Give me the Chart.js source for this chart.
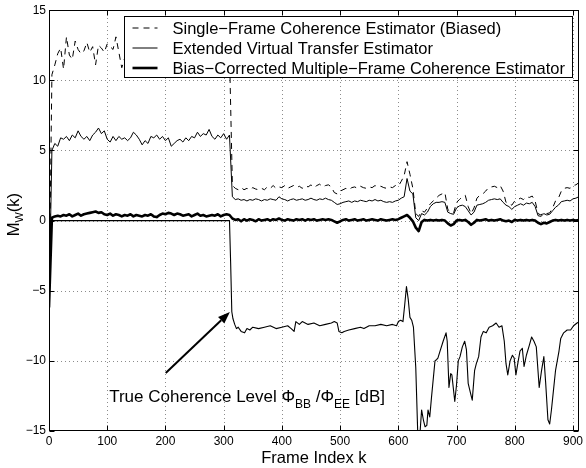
<!DOCTYPE html>
<html>
<head>
<meta charset="utf-8">
<script src="https://cdn.jsdelivr.net/npm/chart.js@4.4.1/dist/chart.umd.min.js"></script>
<style>
  html, body { margin: 0; padding: 0; background: #fff; }
  canvas { display: block; }
</style>
</head>
<body>
<canvas id="chart" width="586" height="468"></canvas>
<script>
// frame index shared by the three estimators (every 5th frame)
const frames = [
  0, 5, 10, 15, 20, 25, 30, 35, 40, 45,
  50, 55, 60, 65, 70, 75, 80, 85, 90, 95,
  100, 105, 110, 115, 120, 125, 130, 135, 140, 145,
  150, 155, 160, 165, 170, 175, 180, 185, 190, 195,
  200, 205, 210, 215, 220, 225, 230, 235, 240, 245,
  250, 255, 260, 265, 270, 275, 280, 285, 290, 295,
  300, 305, 310, 315, 320, 325, 330, 335, 340, 345,
  350, 355, 360, 365, 370, 375, 380, 385, 390, 395,
  400, 405, 410, 415, 420, 425, 430, 435, 440, 445,
  450, 455, 460, 465, 470, 475, 480, 485, 490, 495,
  500, 505, 510, 515, 520, 525, 530, 535, 540, 545,
  550, 555, 560, 565, 570, 575, 580, 585, 590, 595,
  600, 605, 610, 615, 620, 625, 630, 635, 640, 645,
  650, 655, 660, 665, 670, 675, 680, 685, 690, 695,
  700, 705, 710, 715, 720, 725, 730, 735, 740, 745,
  750, 755, 760, 765, 770, 775, 780, 785, 790, 795,
  800, 805, 810, 815, 820, 825, 830, 835, 840, 845,
  850, 855, 860, 865, 870, 875, 880, 885, 890, 895,
  900, 905, 910
];

// Single-Frame Coherence Estimator (Biased)
const singleFrame = [
  -6.2, 10.4, 11.1, 11.9, 12.3, 10.8, 13.1, 11.8, 11.5, 12.8,
  12.2, 11.9, 12.1, 12.7, 12.0, 12.4, 11.1, 12.5, 12.3, 12.0,
  12.6, 12.4, 12.2, 13.1, 12.0, 10.9, 11.6, 12.3, 11.8, 12.5,
  12.1, 11.7, 12.6, 12.0, 12.4, 11.9, 12.7, 12.2, 11.8, 12.5,
  12.0, 12.3, 11.6, 12.4, 12.1, 12.8, 11.9, 12.2, 12.5, 11.7,
  12.3, 12.6, 12.0, 12.4, 11.9, 12.7, 12.1, 12.5, 11.8, 12.2,
  12.4, 11.9, 12.0, 2.5, 2.3, 2.2, 2.35, 2.2, 2.3, 2.2,
  2.35, 2.25, 2.2, 2.3, 2.2, 2.4, 2.3, 2.5, 2.3, 2.4,
  2.35, 2.5, 2.3, 2.4, 2.5, 2.35, 2.45, 2.3, 2.5, 2.4,
  2.55, 2.35, 2.5, 2.6, 2.4, 2.5, 2.55, 2.4, 2.0, 1.9,
  2.1, 2.2, 2.3, 2.2, 2.35, 2.4, 2.3, 2.45, 2.35, 2.3,
  2.4, 2.35, 2.5, 2.4, 2.45, 2.35, 2.3, 2.4, 2.35, 2.5,
  2.45, 2.8, 3.2, 4.2, 3.3, 2.3, 0.5, 0.3, 0.7, 0.6,
  0.9, 1.2, 1.4, 1.6, 1.8, 1.9, 2.0, 0.8, 0.6, 0.55,
  1.3, 1.5, 1.7, 1.8, 1.0, 0.5, 0.9, 1.6, 1.8, 1.9,
  2.1, 2.35, 2.4, 2.45, 2.35, 2.5, 2.1, 1.3, 1.2, 1.1,
  1.4, 1.5, 1.6, 1.5, 1.7, 1.65, 1.75, 1.4, 0.5, 0.4,
  0.6, 0.5, 0.55, 0.9, 1.4, 1.6, 2.1, 2.3, 2.35, 2.3,
  2.5, 2.55, 2.7
];

// Extended Virtual Transfer Estimator
const virtualTransfer = [
  -6.2, 5.0, 5.5, 5.3, 5.9, 5.8, 6.0, 5.7, 6.1, 5.9,
  6.4, 6.0, 5.8, 6.0, 5.7, 6.1, 6.3, 6.6, 6.2, 6.4,
  5.8, 5.6, 6.0, 5.7, 6.0, 5.8, 5.9, 5.7, 5.9, 6.3,
  6.1, 5.8, 5.4, 5.7, 5.5, 6.0, 5.9, 6.1, 5.8, 6.0,
  5.7, 5.9, 5.3, 5.5, 5.7, 5.8, 5.6, 5.9, 5.7, 6.0,
  5.9, 6.3, 6.0, 6.2, 6.1, 6.5, 6.0, 5.8, 6.1, 5.9,
  6.2, 5.8, 6.1, 1.7, 1.5, 1.55, 1.45, 1.5, 1.4, 1.5,
  1.45, 1.55, 1.5, 1.4, 1.5, 1.45, 1.55, 1.5, 1.45, 1.7,
  1.55, 1.5, 1.4, 1.5, 1.55, 1.45, 1.5, 1.55, 1.45, 1.5,
  1.6, 1.5, 1.45, 1.55, 1.5, 1.6, 1.5, 1.45, 1.3, 1.15,
  1.2, 1.3, 1.35, 1.4, 1.3, 1.4, 1.35, 1.45, 1.4, 1.35,
  1.45, 1.4, 1.5, 1.4, 1.45, 1.35, 1.3, 1.35, 1.3, 1.4,
  1.45, 1.6, 1.7, 3.0, 2.1, 1.9, 0.2, 0.0, 0.5, 0.4,
  0.6, 1.0, 1.2, 1.3, 1.3, 1.35, 1.3, 0.6, 0.5, 0.45,
  0.9, 1.05, 1.1, 1.0, 0.7, 0.4, 0.6, 1.1, 1.15, 1.2,
  1.3, 1.45, 1.5, 1.55, 1.5, 1.55, 1.3, 1.1, 1.0, 0.8,
  1.0, 1.1, 1.2, 1.1, 1.25, 1.2, 1.3, 1.0, 0.35, 0.3,
  0.5, 0.4, 0.45, 0.7, 0.95, 1.1, 1.35, 1.4, 1.45, 1.4,
  1.55, 1.6, 1.7
];

// Bias-Corrected Multiple-Frame Coherence Estimator
const biasCorrected = [
  -6.2, 0.2, 0.3, 0.35, 0.3, 0.4, 0.35, 0.45, 0.3, 0.4,
  0.5, 0.35, 0.45, 0.5, 0.55, 0.6, 0.65, 0.55, 0.6, 0.45,
  0.4, 0.5, 0.35, 0.45, 0.4, 0.3, 0.4, 0.35, 0.45, 0.3,
  0.4, 0.35, 0.3, 0.4, 0.35, 0.45, 0.3, 0.25, 0.4, 0.5,
  0.45, 0.55, 0.5, 0.4, 0.5, 0.45, 0.35, 0.4, 0.45, 0.3,
  0.4, 0.5, 0.35, 0.4, 0.3, 0.35, 0.4, 0.35, 0.45, 0.3,
  0.4, 0.45, 0.4, 0.15, 0.05, 0.1, -0.05, 0.1, 0.0, 0.1,
  0.05, -0.05, 0.1, 0.0, 0.05, 0.1, 0.0, 0.1, 0.05, 0.15,
  0.05, 0.0, 0.1, 0.05, 0.0, 0.1, 0.05, 0.1, 0.0, 0.1,
  0.05, 0.1, 0.0, 0.05, 0.1, 0.05, 0.1, 0.05, -0.05, -0.15,
  -0.05, 0.05, 0.1, 0.0, 0.05, 0.1, 0.0, 0.05, 0.1, 0.0,
  0.05, 0.1, 0.05, 0.0, 0.1, 0.05, 0.0, 0.05, 0.1, 0.05,
  0.1, 0.2, 0.3, 0.4, 0.2, -0.05, -0.5, -0.75, -0.1, 0.05,
  0.0, 0.05, 0.0, 0.05, 0.0, 0.05, 0.0, -0.2, -0.35, -0.25,
  0.0, 0.05, 0.0, 0.05, -0.1, -0.3, -0.15, 0.05, 0.0, 0.05,
  0.1, 0.0, 0.05, 0.0, 0.05, 0.1, 0.0, -0.05, 0.0, -0.1,
  0.05, 0.0, 0.05, 0.0, 0.05, 0.0, 0.05, 0.0, -0.15, -0.25,
  -0.15, -0.2, -0.1, 0.0, 0.05, 0.0, 0.05, 0.0, 0.05, 0.0,
  0.05, 0.0, 0.05
];

// True coherence level Phi_BB / Phi_EE in dB (own frame grid)
const trueFrames = [
  0, 3, 310, 312, 314, 316, 319, 322, 325, 330,
  336, 340, 345, 350, 360, 370, 380, 390, 400, 410,
  416, 421, 424, 430, 435, 445, 455, 465, 475, 485,
  490, 495, 498, 503, 507, 515, 525, 535, 541, 550,
  560, 570, 580, 590, 597, 600, 604, 608, 611, 614,
  617, 620, 623, 626, 630, 634, 637, 640, 643, 646,
  649, 651, 654, 657, 663, 666, 668, 671, 677, 682,
  684, 687, 690, 692, 697, 700, 703, 706, 710, 714,
  717, 720, 724, 727, 731, 734, 738, 742, 746, 751,
  756, 762, 768, 773, 778, 782, 785, 788, 792, 796,
  799, 802, 806, 809, 813, 816, 820, 825, 829, 833,
  837, 842, 846, 850, 853, 857, 860, 863, 866, 870,
  876, 879, 884, 890, 896, 901, 907, 911
];
const trueLevel = [
  -6.2, 0, 0, -3.0, -6.5, -7.0, -7.4, -7.7, -7.6, -7.9,
  -8.0, -7.7, -7.8, -7.6, -7.7, -7.6, -7.5, -7.7, -7.6, -7.5,
  -7.7, -7.9, -7.2, -7.4, -7.2, -7.4, -7.3, -7.5, -7.4, -7.3,
  -7.2, -7.3, -7.9, -8.0, -7.9, -7.8, -7.7, -7.6, -7.7, -7.5,
  -7.5, -7.4, -7.5, -7.4, -7.5, -7.2, -7.1, -7.2, -6.0, -4.7,
  -5.6, -6.9, -7.1, -7.6, -10.5, -16, -15.3, -13.5, -14.2, -14.7,
  -14.6, -13.5, -14.0, -12.6, -10.0, -9.9, -9.8, -9.4, -8.6, -8.0,
  -8.6, -11.9, -10.9, -11.0, -12.9, -11.7, -10.0, -9.7, -9.0, -8.6,
  -9.2, -11.6, -12.3, -12.8, -10.7, -10.2, -9.7, -8.3, -7.9, -8.0,
  -7.6, -7.5, -7.3, -7.6, -7.5, -8.6, -10.2, -11.0, -10.0, -9.6,
  -9.8, -11.0, -10.0, -9.3, -9.1, -10.4, -9.6, -8.9, -8.3, -8.6,
  -9.0, -11.9, -10.7, -9.7, -11.5, -14.2, -14.5, -13.5, -12.3, -10.7,
  -9.3, -8.4, -8.0, -7.8, -7.8, -7.5, -7.3, -7.2
];

const xTicks = [0, 100, 200, 300, 400, 500, 600, 700, 800, 900];
const yTicks = [-15, -10, -5, 0, 5, 10, 15];

const legendLabels = [
  'Single\u2212Frame Coherence Estimator (Biased)',
  'Extended Virtual Transfer Estimator',
  'Bias\u2212Corrected Multiple\u2212Frame Coherence Estimator'
];

// annotation arrow in data units (frame, dB)
const arrowFrom = { x: 200.5, y: -10.87 };
const arrowTo = { x: 310.7, y: -6.52 };
const noteAt = { x: 103.4, y: -12.95 };

const FONT = '"Liberation Sans", Arial, Helvetica, sans-serif';

function toPoints(xs, ys) {
  return xs.map((x, i) => ({ x: x, y: ys[i] }));
}

const lineBase = {
  borderColor: '#000',
  pointRadius: 0,
  tension: 0,
  fill: false,
  borderJoinStyle: 'round',
  borderCapStyle: 'butt'
};

// grid, box, inward ticks, legend, arrow and labels (MATLAB look)
const matlabAxes = {
  id: 'matlabAxes',
  beforeDatasetsDraw(chart) {
    const ctx = chart.ctx;
    const a = chart.chartArea;
    const xs = chart.scales.x, ys = chart.scales.y;
    ctx.save();
    ctx.strokeStyle = '#8c8c8c';
    ctx.lineWidth = 1;
    ctx.setLineDash([1, 3]);
    xTicks.forEach(v => {
      const px = Math.round(xs.getPixelForValue(v)) + 0.5;
      if (px <= a.left + 1 || px >= a.right - 1) return;
      ctx.beginPath(); ctx.moveTo(px, a.bottom); ctx.lineTo(px, a.top); ctx.stroke();
    });
    yTicks.forEach(v => {
      const py = Math.round(ys.getPixelForValue(v)) + 0.5;
      if (py <= a.top + 1 || py >= a.bottom - 1) return;
      ctx.beginPath(); ctx.moveTo(a.left, py); ctx.lineTo(a.right, py); ctx.stroke();
    });
    ctx.restore();
  },
  afterDraw(chart) {
    const ctx = chart.ctx;
    const a = chart.chartArea;
    const xs = chart.scales.x, ys = chart.scales.y;
    const L = Math.round(a.left) + 0.5, R = Math.round(a.right) - 0.5;
    const T = Math.round(a.top) + 0.5, B = Math.round(a.bottom) - 0.5;
    ctx.save();

    // box and inward ticks
    ctx.strokeStyle = '#000';
    ctx.lineWidth = 1;
    ctx.setLineDash([]);
    ctx.strokeRect(L, T, R - L, B - T);
    const tl = 5;
    ctx.beginPath();
    xTicks.forEach(v => {
      const px = Math.round(xs.getPixelForValue(v)) + 0.5;
      ctx.moveTo(px, B); ctx.lineTo(px, B - tl);
      ctx.moveTo(px, T); ctx.lineTo(px, T + tl);
    });
    yTicks.forEach(v => {
      const py = Math.round(ys.getPixelForValue(v)) + 0.5;
      ctx.moveTo(L, py); ctx.lineTo(L + tl, py);
      ctx.moveTo(R, py); ctx.lineTo(R - tl, py);
    });
    ctx.stroke();

    // legend box
    ctx.font = '16.5px ' + FONT;
    const maxW = Math.max(...legendLabels.map(t => ctx.measureText(t).width));
    const lw = Math.round(48 + maxW + 8);
    const lr = R - 6, lt = T + 6;
    const ll = lr - lw, lh = 61;
    ctx.fillStyle = '#fff';
    ctx.fillRect(ll, lt, lw, lh);
    ctx.strokeRect(ll, lt, lw, lh);
    legendLabels.forEach((label, i) => {
      const ds = chart.data.datasets[i];
      const ry = lt + 11.5 + i * 20;
      ctx.save();
      ctx.strokeStyle = '#000';
      ctx.lineWidth = ds.borderWidth;
      ctx.setLineDash(ds.borderDash || []);
      ctx.beginPath();
      ctx.moveTo(ll + 8, ry); ctx.lineTo(ll + 33, ry);
      ctx.stroke();
      ctx.restore();
      ctx.fillStyle = '#000';
      ctx.textAlign = 'left';
      ctx.textBaseline = 'middle';
      ctx.fillText(label, ll + 48, ry + 1);
    });

    // arrow
    const x0 = xs.getPixelForValue(arrowFrom.x), y0 = ys.getPixelForValue(arrowFrom.y);
    const x1 = xs.getPixelForValue(arrowTo.x), y1 = ys.getPixelForValue(arrowTo.y);
    const ang = Math.atan2(y1 - y0, x1 - x0);
    const hl = 12, hw = 4.5;
    ctx.lineWidth = 2;
    ctx.beginPath();
    ctx.moveTo(x0, y0);
    ctx.lineTo(x1 - hl * Math.cos(ang), y1 - hl * Math.sin(ang));
    ctx.stroke();
    ctx.beginPath();
    ctx.moveTo(x1, y1);
    ctx.lineTo(x1 - hl * Math.cos(ang) + hw * Math.sin(ang), y1 - hl * Math.sin(ang) - hw * Math.cos(ang));
    ctx.lineTo(x1 - hl * Math.cos(ang) - hw * Math.sin(ang), y1 - hl * Math.sin(ang) + hw * Math.cos(ang));
    ctx.closePath();
    ctx.fill();

    // annotation text with subscripts
    const parts = [
      ['True Coherence Level \u03A6', false],
      ['BB', true],
      [' /\u03A6', false],
      ['EE', true],
      [' [dB]', false]
    ];
    let tx = xs.getPixelForValue(noteAt.x);
    const ty = ys.getPixelForValue(noteAt.y);
    ctx.textAlign = 'left';
    ctx.textBaseline = 'alphabetic';
    parts.forEach(([s, sub]) => {
      ctx.font = (sub ? '12px ' : '17px ') + FONT;
      ctx.fillText(s, tx, ty + (sub ? 6 : 0));
      tx += ctx.measureText(s).width;
    });

    // x axis title
    ctx.font = '16.5px ' + FONT;
    ctx.textAlign = 'center';
    ctx.fillText('Frame Index k', (a.left + a.right) / 2, 463);

    // y axis title M_W(k), rotated
    ctx.save();
    ctx.translate(18.5, (a.top + a.bottom) / 2 - 6);
    ctx.rotate(-Math.PI / 2);
    ctx.textAlign = 'left';
    ctx.font = '16.5px ' + FONT;
    const wM = ctx.measureText('M').width;
    const wK = ctx.measureText('(k)').width;
    ctx.font = '11px ' + FONT;
    const wW = ctx.measureText('W').width;
    let sx = -(wM + wW + wK) / 2;
    ctx.font = '16.5px ' + FONT;
    ctx.fillText('M', sx, 0); sx += wM;
    ctx.font = '11px ' + FONT;
    ctx.fillText('W', sx, 4); sx += wW;
    ctx.font = '16.5px ' + FONT;
    ctx.fillText('(k)', sx, 0);
    ctx.restore();

    ctx.restore();
  }
};

new Chart(document.getElementById('chart'), {
  type: 'line',
  data: {
    datasets: [
      Object.assign({}, lineBase, {
        label: legendLabels[0],
        data: toPoints(frames, singleFrame),
        borderWidth: 1,
        borderDash: [6, 5]
      }),
      Object.assign({}, lineBase, {
        label: legendLabels[1],
        data: toPoints(frames, virtualTransfer),
        borderWidth: 1
      }),
      Object.assign({}, lineBase, {
        label: legendLabels[2],
        data: toPoints(frames, biasCorrected),
        borderWidth: 2.6
      }),
      Object.assign({}, lineBase, {
        label: 'True Coherence Level',
        data: toPoints(trueFrames, trueLevel),
        borderWidth: 1.1
      })
    ]
  },
  options: {
    responsive: false,
    animation: false,
    events: [],
    layout: { padding: { left: 0, right: 2, top: 7, bottom: 0 } },
    plugins: {
      legend: { display: false },
      tooltip: { enabled: false }
    },
    scales: {
      x: {
        type: 'linear',
        min: 0,
        max: 910,
        afterBuildTicks: s => { s.ticks = xTicks.map(v => ({ value: v })); },
        afterFit: s => { s.height = 37; },
        grid: { display: false, drawTicks: false },
        border: { display: false },
        ticks: {
          color: '#000',
          padding: 3,
          maxRotation: 0,
          autoSkip: false,
          font: { family: FONT, size: 12 }
        }
      },
      y: {
        type: 'linear',
        min: -15,
        max: 15,
        afterBuildTicks: s => { s.ticks = yTicks.map(v => ({ value: v })); },
        afterFit: s => { s.width = 49; },
        grid: { display: false, drawTicks: false },
        border: { display: false },
        ticks: {
          color: '#000',
          padding: 3,
          autoSkip: false,
          font: { family: FONT, size: 12 },
          callback: v => String(v).replace('-', '\u2212')
        }
      }
    }
  },
  plugins: [matlabAxes]
});
</script>
</body>
</html>
